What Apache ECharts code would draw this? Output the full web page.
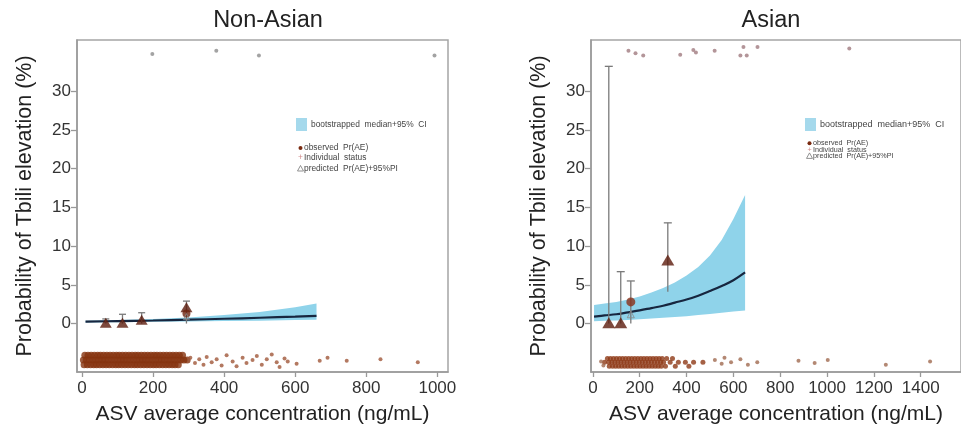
<!DOCTYPE html>
<html><head><meta charset="utf-8">
<script src="https://cdn.jsdelivr.net/npm/echarts@6/dist/echarts.min.js"></script>
<style>html,body{margin:0;background:#fff}#c{width:961px;height:432px}</style>
</head><body><div id="c"></div>
<script>
// ---- text ----
const panelTitles = ['Non-Asian', 'Asian'];
const xName = 'ASV average concentration (ng/mL)';
const yName = 'Probability of Tbili elevation (%)';
const legendLabels = ['bootstrapped  median+95%  CI', 'observed  Pr(AE)', 'Individual  status', 'predicted  Pr(AE)+95%PI'];
// ---- ticks ----
const xTicksL = [0, 200, 400, 600, 800, 1000];
const xTicksR = [0, 200, 400, 600, 800, 1000, 1200, 1400];
const yTicks = [0, 5, 10, 15, 20, 25, 30];

// ---- Non-Asian: bootstrapped median + 95% CI ----
const bandXL   = [10, 100, 200, 300, 400, 500, 600, 660];
const medianL  = [0.25, 0.32, 0.40, 0.50, 0.62, 0.75, 0.90, 1.00];
const lowerL   = [0.15, 0.18, 0.22, 0.27, 0.32, 0.38, 0.45, 0.50];
const upperL   = [0.35, 0.45, 0.60, 0.80, 1.10, 1.50, 2.10, 2.60];
// ---- Asian: bootstrapped median + 95% CI ----
const bandXR   = [5, 50, 100, 150, 200, 250, 300, 350, 400, 450, 500, 550, 600, 650];
const medianR  = [0.90, 1.05, 1.20, 1.45, 1.70, 2.00, 2.30, 2.70, 3.10, 3.60, 4.20, 4.85, 5.60, 6.60];
const lowerR   = [0.30, 0.35, 0.40, 0.47, 0.55, 0.65, 0.75, 0.85, 0.95, 1.10, 1.25, 1.40, 1.55, 1.70];
const upperR   = [2.40, 2.60, 2.80, 3.10, 3.50, 4.00, 4.60, 5.30, 6.20, 7.30, 8.80, 10.8, 13.5, 16.6];

// ---- binned observed / predicted (x, lower PI, upper PI) ----
const binXL = [67, 114, 168, 294];
const binLoL = [0, 0, 0, 0];
const binHiL = [0.6, 1.2, 1.4, 2.9];
const triXL = [67, 114, 168, 294];
const triYL = [0.1, 0.1, 0.5, 2.1];
const dotXL = [294];
const dotYL = [1.3];
const predXL = [294];
const predYL = [0.9];

const binXR = [68, 119, 162, 320];
const binLoR = [0, 0, 0, 4.1];
const binHiR = [33.2, 6.7, 5.5, 13.0];
const triXR = [68, 119, 320];
const triYR = [0.1, 0.1, 8.2];
const dotXR = [162];
const dotYR = [2.8];
const predXR = [162];
const predYR = [1.2];

// ---- individual status, AE = 1 (top) ----
const topXL = [198, 378, 498, 992];
const topYL = [34.8, 35.2, 34.6, 34.6];
const topXR = [152, 182, 215, 373, 429, 440, 520, 643, 630, 657, 703, 1095];
const topYR = [35.2, 34.9, 34.6, 34.7, 35.3, 35.0, 35.2, 35.7, 34.6, 34.6, 35.7, 35.5];

// ---- individual status, AE = 0 (bottom) ----
const botDenseXL = [8,17,26,35,44,52,61,70,79,88,97,105,114,123,132,141,150,158,167,176,185,194,203,211,220,229,238,247,256,265,274,283,
  4,12,21,30,39,48,57,65,74,83,92,101,110,118,127,136,145,154,163,171,180,189,198,207,216,224,233,242,251,260,269,278,287,296,
  6,15,24,33,41,50,59,68,77,86,95,103,112,121,130,139,148,156,165,174,183,192,201,209,218,227,236,245,254,262,271];
const botDenseYL = [-4.1,-4.1,-4.1,-4.1,-4.1,-4.1,-4.1,-4.1,-4.1,-4.1,-4.1,-4.1,-4.1,-4.1,-4.1,-4.1,-4.1,-4.1,-4.1,-4.1,-4.1,-4.1,-4.1,-4.1,-4.1,-4.1,-4.1,-4.1,-4.1,-4.1,-4.1,-4.1,
  -4.7,-4.7,-4.7,-4.7,-4.7,-4.7,-4.7,-4.7,-4.7,-4.7,-4.7,-4.7,-4.7,-4.7,-4.7,-4.7,-4.7,-4.7,-4.7,-4.7,-4.7,-4.7,-4.7,-4.7,-4.7,-4.7,-4.7,-4.7,-4.7,-4.7,-4.7,-4.7,-4.7,-4.7,
  -5.3,-5.3,-5.3,-5.3,-5.3,-5.3,-5.3,-5.3,-5.3,-5.3,-5.3,-5.3,-5.3,-5.3,-5.3,-5.3,-5.3,-5.3,-5.3,-5.3,-5.3,-5.3,-5.3,-5.3,-5.3,-5.3,-5.3,-5.3,-5.3,-5.3,-5.3];
const botSparseXL = [305,318,330,342,351,365,379,393,407,424,435,452,463,480,492,506,520,534,548,556,570,579,604,669,691,745,840,945];
const botSparseYL = [-4.4,-5.1,-4.6,-5.3,-4.3,-5.0,-4.6,-5.4,-4.1,-4.9,-5.5,-4.4,-5.1,-4.7,-4.2,-5.3,-4.6,-4.0,-5.0,-5.6,-4.5,-4.9,-5.2,-4.8,-4.4,-4.8,-4.6,-5.0];

const botDenseXR = [62,75,88,101,114,127,140,153,166,179,192,205,218,231,244,257,270,283,296,315,340,
  50,68,81,94,107,120,133,146,159,172,185,198,211,224,237,250,263,276,289,302,330,365,395,430,470,
  70,84,97,110,123,136,149,162,175,188,201,214,227,240,253,266,279,292,310,352,410];
const botDenseYR = [-4.5,-4.5,-4.5,-4.5,-4.5,-4.5,-4.5,-4.5,-4.5,-4.5,-4.5,-4.5,-4.5,-4.5,-4.5,-4.5,-4.5,-4.5,-4.5,-4.5,-4.5,
  -5.0,-5.0,-5.0,-5.0,-5.0,-5.0,-5.0,-5.0,-5.0,-5.0,-5.0,-5.0,-5.0,-5.0,-5.0,-5.0,-5.0,-5.0,-5.0,-5.0,-5.0,-5.0,-5.0,-5.0,-5.0,
  -5.5,-5.5,-5.5,-5.5,-5.5,-5.5,-5.5,-5.5,-5.5,-5.5,-5.5,-5.5,-5.5,-5.5,-5.5,-5.5,-5.5,-5.5,-5.5,-5.5,-5.5];
const botSparseXR = [35,45,521,550,562,590,630,662,702,878,947,1003,1251,1440];
const botSparseYR = [-4.9,-5.4,-4.7,-5.2,-4.4,-5.0,-4.6,-5.3,-5.0,-4.8,-5.1,-4.7,-5.3,-4.9];

// ---- helpers ----
const zip = (a, b) => a.map((v, i) => [v, b[i]]);
const FONT = 'Liberation Sans, Arial, sans-serif';

function bandSeries(idx, xs, lo, hi) {
  return {
    type: 'custom', xAxisIndex: idx, yAxisIndex: idx, z: 1, silent: true,
    data: [0],
    renderItem: (params, api) => {
      const pts = [];
      xs.forEach((x, i) => pts.push(api.coord([x, hi[i]])));
      for (let i = xs.length - 1; i >= 0; i--) pts.push(api.coord([xs[i], lo[i]]));
      return { type: 'polygon', shape: { points: pts }, style: { fill: '#8fd3ea' } };
    }
  };
}
function errSeries(idx, xs, lo, hi, cap) {
  return {
    type: 'custom', xAxisIndex: idx, yAxisIndex: idx, z: 4, silent: true,
    data: xs.map((x, i) => [x, lo[i], hi[i]]),
    renderItem: (params, api) => {
      const x = api.value(0);
      const a = api.coord([x, api.value(1)]);
      const b = api.coord([x, api.value(2)]);
      const st = { stroke: '#7a7a7a', lineWidth: 1.3 };
      return { type: 'group', children: [
        { type: 'line', shape: { x1: a[0], y1: a[1], x2: b[0], y2: b[1] }, style: st },
        { type: 'line', shape: { x1: b[0] - cap, y1: b[1], x2: b[0] + cap, y2: b[1] }, style: st }
      ]};
    }
  };
}
function scatter(idx, data, opts) {
  return Object.assign({ type: 'scatter', xAxisIndex: idx, yAxisIndex: idx, data: data, silent: true }, opts);
}
function lineSeries(idx, xs, ys) {
  return { type: 'line', xAxisIndex: idx, yAxisIndex: idx, z: 3, data: zip(xs, ys), smooth: 0.4,
    symbol: 'none', lineStyle: { color: '#17263f', width: 2.2 }, silent: true };
}
function xAxisOpt(idx, min, max, ticks) {
  return {
    type: 'value', gridIndex: idx, min: min, max: max,
    name: xName, nameLocation: 'middle', nameGap: 32,
    nameTextStyle: { fontSize: 21, color: '#222', fontFamily: FONT },
    axisLine: { show: true, onZero: false, lineStyle: { color: '#999', width: 1.5 } },
    axisTick: { show: true, customValues: ticks, length: 5, lineStyle: { color: '#999', width: 1.3 } },
    axisLabel: { customValues: ticks, fontSize: 17, color: '#333', margin: 8, fontFamily: FONT, formatter: v => String(v) },
    splitLine: { show: false }
  };
}
function yAxisOpt(idx) {
  return {
    type: 'value', gridIndex: idx, min: -6.25, max: 36.6,
    name: yName, nameLocation: 'middle', nameGap: 41,
    nameTextStyle: { fontSize: 21.5, color: '#222', fontFamily: FONT },
    axisLine: { show: true, onZero: false, lineStyle: { color: '#999', width: 1.5 } },
    axisTick: { show: true, customValues: yTicks, length: 6, lineStyle: { color: '#999', width: 1.3 } },
    axisLabel: { customValues: yTicks, fontSize: 17, color: '#333', margin: 6, fontFamily: FONT, formatter: v => String(v) },
    splitLine: { show: false }
  };
}
function legend(x0, y0, fs, fs2, rows) {
  const col = '#444';
  return [
    { type: 'rect', shape: { x: x0, y: y0, width: 11, height: 13 }, style: { fill: '#a5d9ec' } },
    { type: 'text', style: { text: legendLabels[0], x: x0 + 15, y: y0 + 7, font: fs + 'px ' + FONT, fill: col, textVerticalAlign: 'middle' } },
    { type: 'circle', shape: { cx: x0 + 4.5, cy: rows[0], r: 2 }, style: { fill: '#7a2a10' } },
    { type: 'text', style: { text: legendLabels[1], x: x0 + 8, y: rows[0], font: fs2 + 'px ' + FONT, fill: col, textVerticalAlign: 'middle' } },
    { type: 'text', style: { text: '+', x: x0 + 4.5, y: rows[1], font: fs2 + 'px ' + FONT, fill: '#d08a8a', textAlign: 'center', textVerticalAlign: 'middle' } },
    { type: 'text', style: { text: legendLabels[2], x: x0 + 8, y: rows[1], font: fs2 + 'px ' + FONT, fill: col, textVerticalAlign: 'middle' } },
    { type: 'polygon', shape: { points: [[x0 + 4.5, rows[2] - 3], [x0 + 1.5, rows[2] + 2.5], [x0 + 7.5, rows[2] + 2.5]] }, style: { fill: 'none', stroke: '#777', lineWidth: 0.8 } },
    { type: 'text', style: { text: legendLabels[3], x: x0 + 8, y: rows[2], font: fs2 + 'px ' + FONT, fill: col, textVerticalAlign: 'middle' } }
  ];
}

const chart = echarts.init(document.getElementById('c'), null, { renderer: 'canvas' });
const option = {
  backgroundColor: '#fff',
  animation: false,
  textStyle: { fontFamily: FONT },
  title: [
    { text: panelTitles[0], left: 263, top: 4, textAlign: 'center', textStyle: { fontSize: 23.5, fontWeight: 'normal', color: '#222', fontFamily: FONT } },
    { text: panelTitles[1], left: 766, top: 4, textAlign: 'center', textStyle: { fontSize: 23.5, fontWeight: 'normal', color: '#222', fontFamily: FONT } }
  ],
  grid: [
    { left: 77, top: 40, width: 371, height: 332, show: true, borderColor: '#a5a5a5', borderWidth: 1.5, containLabel: false },
    { left: 591, top: 40, width: 394, height: 332, show: true, borderColor: '#a5a5a5', borderWidth: 1.5, containLabel: false }
  ],
  xAxis: [xAxisOpt(0, -14, 1030, xTicksL), xAxisOpt(1, -8, 1572, xTicksR)],
  yAxis: [yAxisOpt(0), yAxisOpt(1)],
  graphic: [].concat(legend(296, 118, 8.4, 8.4, [148, 158, 168.5]), legend(805, 118, 9, 7.2, [143.3, 149.6, 155.9])),
  series: [
    bandSeries(0, bandXL, lowerL, upperL),
    bandSeries(1, bandXR, lowerR, upperR),
    lineSeries(0, bandXL, medianL),
    lineSeries(1, bandXR, medianR),
    errSeries(0, binXL, binLoL, binHiL, 3.5),
    errSeries(1, binXR, binLoR, binHiR, 4),
    scatter(0, zip(triXL, triYL), { symbol: 'triangle', symbolSize: [12, 10], itemStyle: { color: '#5c1c0c' }, z: 6 }),
    scatter(1, zip(triXR, triYR), { symbol: 'triangle', symbolSize: [13, 11], itemStyle: { color: '#5c1c0c' }, z: 6 }),
    scatter(0, zip(dotXL, dotYL), { symbol: 'circle', symbolSize: 8, itemStyle: { color: '#6e2410' }, z: 6 }),
    scatter(1, zip(dotXR, dotYR), { symbol: 'circle', symbolSize: 9, itemStyle: { color: '#8a3018' }, z: 6 }),
    scatter(0, zip(predXL, predYL), { symbol: 'triangle', symbolSize: 6, itemStyle: { color: 'rgba(0,0,0,0)', borderColor: '#888', borderWidth: 1 }, z: 7 }),
    scatter(1, zip(predXR, predYR), { symbol: 'triangle', symbolSize: 7, itemStyle: { color: 'rgba(0,0,0,0)', borderColor: '#888', borderWidth: 1 }, z: 7 }),
    scatter(0, zip(topXL, topYL), { symbolSize: 4, itemStyle: { color: '#8c8c8c' }, z: 5 }),
    scatter(1, zip(topXR, topYR), { symbolSize: 4, itemStyle: { color: '#a07a80' }, z: 5 }),
    scatter(0, zip(botDenseXL, botDenseYL), { symbolSize: 7, itemStyle: { color: '#86330f' }, z: 5 }),
    scatter(0, zip(botSparseXL, botSparseYL), { symbolSize: 4, itemStyle: { color: '#a0583a' }, z: 5 }),
    scatter(1, zip(botDenseXR, botDenseYR), { symbolSize: 5, itemStyle: { color: '#8e3a16' }, z: 5 }),
    scatter(1, zip(botSparseXR, botSparseYR), { symbolSize: 4, itemStyle: { color: '#a06a50' }, z: 5 })
  ]
};
chart.setOption(option);
</script>
</body></html>
